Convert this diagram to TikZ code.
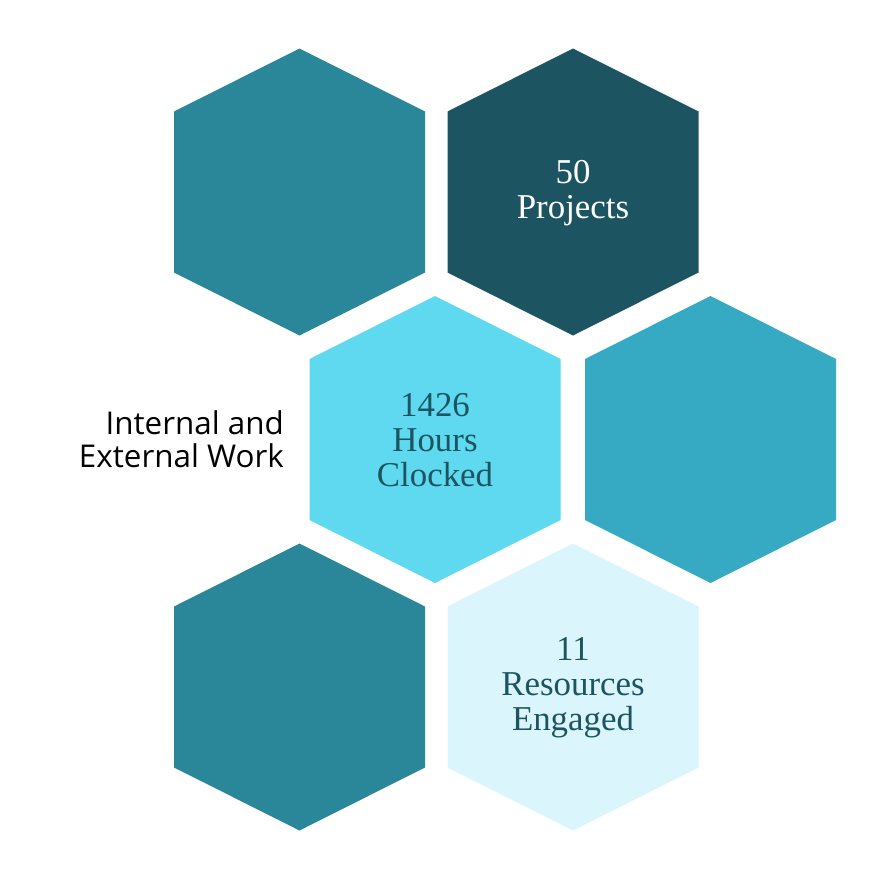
\documentclass[tikz,border=0pt]{standalone}
\usepackage{fontspec}
\setmainfont{Liberation Serif}
\newfontfamily\labelfont{Open Sans}
\definecolor{tealmid}{HTML}{2A8799}
\definecolor{tealdark}{HTML}{1C5561}
\definecolor{cyanlight}{HTML}{5FD9F0}
\definecolor{cyanmid}{HTML}{37AAC3}
\definecolor{cyanpale}{HTML}{DAF5FB}
\tikzset{
  hextext/.style={inner sep=0pt, align=center, font=\fontsize{35}{35}\selectfont},
}
% hexagon with its centre at (#1,#2), filled with #3
\newcommand{\hexcell}[3]{%
  \fill[#3] (#1,#2) ++(0,-143.5) -- ++(125.5,63) -- ++(0,161) -- ++(-125.5,63)
    -- ++(-125.5,-63) -- ++(0,-161) -- cycle;}
\begin{document}
\begin{tikzpicture}[x=1bp,y=-1bp]
\useasboundingbox (0,0) rectangle (880,873);
\hexcell{299.5}{192}{tealmid}
\hexcell{573}{192}{tealdark}
\hexcell{435}{439.5}{cyanlight}
\hexcell{710.5}{439.5}{cyanmid}
\hexcell{299.5}{687}{tealmid}
\hexcell{573}{687}{cyanpale}
\node[hextext, text=white] (2) at (573,193) {50\\Projects};
\node[hextext, text=tealdark] (3) at (435,440) {1426\\Hours\\Clocked};
\node[hextext, text=tealdark] (6) at (573,688) {11\\Resources\\Engaged};
\node[inner sep=0pt, align=right, anchor=east, font=\labelfont\fontsize{31.5}{33}\selectfont] (w) at (284,439) {Internal and\\External Work};
\end{tikzpicture}
\end{document}
